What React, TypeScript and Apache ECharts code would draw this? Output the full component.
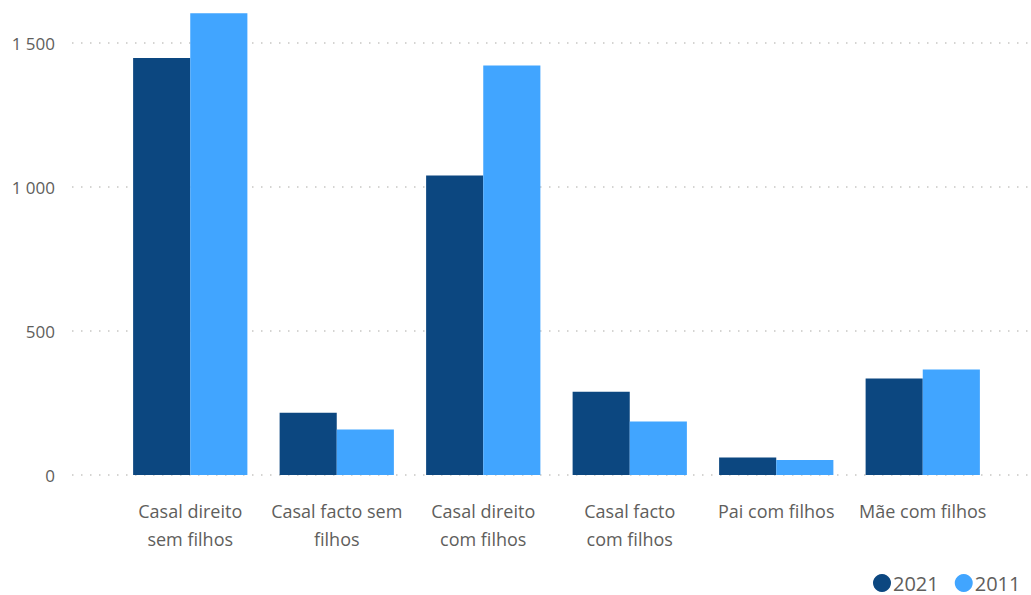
import React, { useEffect, useRef } from "react";
import * as echarts from "echarts";

const categories = [
  "Casal direito sem filhos",
  "Casal facto sem filhos",
  "Casal direito com filhos",
  "Casal facto com filhos",
  "Pai com filhos",
  "Mãe com filhos",
];
const categoryLabels = [
  "Casal direito\nsem filhos",
  "Casal facto sem\nfilhos",
  "Casal direito\ncom filhos",
  "Casal facto\ncom filhos",
  "Pai com filhos",
  "Mãe com filhos",
];
const values2021 = [1448, 216, 1040, 289, 61, 335];
const values2011 = [1603, 158, 1422, 186, 52, 366];
const yTicks = [0, 500, 1000, 1500];

const FONT = "'Segoe UI', 'Open Sans', sans-serif";
const TEXT = "#605E5C";
const DARK = "#0C4780";
const LIGHT = "#41A5FF";

// Plot geometry: the zero line and the top gridline
const W = 1031;
const H = 595;
const ZERO_Y = 475;
const TOP_TICK_Y = 43;
const yMax = yTicks[yTicks.length - 1];
const pxPerUnit = (ZERO_Y - TOP_TICK_Y) / yMax;
const barsMax = ZERO_Y / pxPerUnit;

const fmt = (v: number) =>
  String(Math.round(v)).replace(/\B(?=(\d{3})+(?!\d))/g, " ");

export default function App() {
  const ref = useRef<HTMLDivElement>(null);

  useEffect(() => {
    if (!ref.current) return;
    const chart = echarts.init(ref.current, undefined, { renderer: "svg" });
    chart.setOption({
      animation: false,
      backgroundColor: "#ffffff",
      textStyle: { fontFamily: FONT },
      legend: {
        left: 873,
        top: 573,
        width: 300,
        padding: 0,
        icon: "circle",
        itemWidth: 18,
        itemHeight: 18,
        itemGap: 16,
        data: ["2021", "2011"],
        textStyle: {
          color: TEXT,
          fontSize: 20,
          fontFamily: FONT,
          padding: [0, 0, 0, -3],
        },
      },
      grid: [
        // gridlines and value labels
        { left: 72, right: 0, top: TOP_TICK_Y, bottom: H - ZERO_Y },
        // bars, sharing the same value scale
        { left: 117, right: 35, top: 0, bottom: H - ZERO_Y },
      ],
      xAxis: [
        { type: "category", gridIndex: 0, show: false, data: categories },
        {
          type: "category",
          gridIndex: 1,
          data: categories,
          axisLine: { show: false },
          axisTick: { show: false },
          axisLabel: {
            color: TEXT,
            fontSize: 18,
            fontFamily: FONT,
            lineHeight: 28,
            margin: 22,
            interval: 0,
            formatter: (_: string, i: number) => categoryLabels[i],
          },
        },
      ],
      yAxis: [
        {
          type: "value",
          gridIndex: 0,
          min: 0,
          max: yMax,
          interval: 500,
          axisLine: { show: false },
          axisTick: { show: false },
          axisLabel: {
            color: TEXT,
            fontSize: 17,
            fontFamily: FONT,
            margin: 17,
            formatter: (v: number) => fmt(v),
          },
          splitLine: {
            lineStyle: { color: "#C8C6C4", width: 1.5, type: [1.5, 7.5] },
          },
        },
        {
          type: "value",
          gridIndex: 1,
          min: 0,
          max: barsMax,
          show: false,
          splitLine: { show: false },
        },
      ],
      series: [
        {
          name: "2021",
          type: "bar",
          xAxisIndex: 1,
          yAxisIndex: 1,
          data: values2021,
          itemStyle: { color: DARK },
          barGap: "0%",
          barCategoryGap: "22%",
        },
        {
          name: "2011",
          type: "bar",
          xAxisIndex: 1,
          yAxisIndex: 1,
          data: values2011,
          itemStyle: { color: LIGHT },
          barGap: "0%",
          barCategoryGap: "22%",
        },
      ],
    });
    return () => chart.dispose();
  }, []);

  return (
    <div
      ref={ref}
      style={{ position: "absolute", left: 0, top: 0, width: W, height: H }}
    />
  );
}
